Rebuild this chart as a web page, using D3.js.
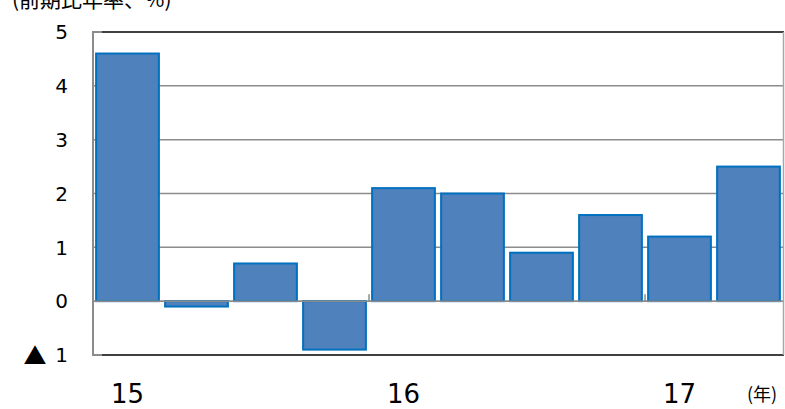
<!DOCTYPE html>
<html>
<head>
<meta charset="utf-8">
<script src="https://cdn.jsdelivr.net/npm/d3@7"></script>
<style>
  html, body { margin: 0; padding: 0; background: #fff; }
  svg { display: block; }
</style>
</head>
<body>
<svg id="chart" width="785" height="409"></svg>
<script>
// Quarterly growth, annualised (%)
const periods = ["15Q1", "15Q2", "15Q3", "15Q4", "16Q1", "16Q2", "16Q3", "16Q4", "17Q1", "17Q2"];
const growth = [4.6, -0.1, 0.7, -0.9, 2.1, 2.0, 0.9, 1.6, 1.2, 2.5];
const yTicks = [-1, 0, 1, 2, 3, 4, 5];
const yearLabels = [
  { period: "15Q1", text: "15" },
  { period: "16Q1", text: "16" },
  { period: "17Q1", text: "17" }
];
const yearBreaks = ["16Q1", "17Q1"];

const svg = d3.select("#chart");
const plotL = 93, plotR = 783, plotT = 32, plotB = 355;

const x = d3.scaleBand().domain(periods).range([plotL, plotR]).paddingInner(0.09).paddingOuter(0.045);
const y = d3.scaleLinear().domain([-1, 5]).range([plotB, plotT]);

const numFont = "'DejaVu Sans', Verdana, sans-serif";
const jpFont = "'Noto Sans CJK JP', sans-serif";

// horizontal gridlines
svg.append("g").selectAll("line")
  .data(yTicks.filter(d => d > -1 && d < 5))
  .join("line")
  .attr("x1", plotL).attr("x2", plotR)
  .attr("y1", d => y(d)).attr("y2", d => y(d))
  .attr("stroke", "#8c8c8c").attr("stroke-width", 1.5);

// bars
svg.append("g").selectAll("rect")
  .data(periods.map((p, i) => ({ p, v: growth[i] })))
  .join("rect")
  .attr("x", d => x(d.p))
  .attr("width", x.bandwidth())
  .attr("y", d => y(Math.max(0, d.v)))
  .attr("height", d => Math.abs(y(d.v) - y(0)))
  .attr("fill", "#4f81bd")
  .attr("stroke", "#0070c0")
  .attr("stroke-width", 2);

// zero line redrawn over the bars
svg.append("line")
  .attr("x1", plotL).attr("x2", plotR)
  .attr("y1", y(0)).attr("y2", y(0))
  .attr("stroke", "#8c8c8c").attr("stroke-width", 1.5);

// year separators on the zero line
svg.append("g").selectAll("line")
  .data(yearBreaks)
  .join("line")
  .attr("x1", d => x(d) - x.step() * x.paddingInner() / 2)
  .attr("x2", d => x(d) - x.step() * x.paddingInner() / 2)
  .attr("y1", y(0)).attr("y2", y(0) - 7)
  .attr("stroke", "#8c8c8c").attr("stroke-width", 1.5);

// plot frame
svg.append("line").attr("x1", plotL + 9).attr("x2", plotR + 1).attr("y1", plotT).attr("y2", plotT)
  .attr("stroke", "#404040").attr("stroke-width", 2);
svg.append("line").attr("x1", plotL + 9).attr("x2", plotR + 1).attr("y1", plotB).attr("y2", plotB)
  .attr("stroke", "#404040").attr("stroke-width", 2);
svg.append("line").attr("x1", plotR + 0.5).attr("x2", plotR + 0.5).attr("y1", plotT).attr("y2", plotB)
  .attr("stroke", "#a6a6a6").attr("stroke-width", 1.5);
svg.append("line").attr("x1", plotL).attr("x2", plotL).attr("y1", plotT - 1).attr("y2", plotB + 1)
  .attr("stroke", "#8c8c8c").attr("stroke-width", 2);
svg.append("line").attr("x1", plotL).attr("x2", plotL + 9).attr("y1", plotT).attr("y2", plotT)
  .attr("stroke", "#8c8c8c").attr("stroke-width", 2);
svg.append("line").attr("x1", plotL).attr("x2", plotL + 9).attr("y1", plotB).attr("y2", plotB)
  .attr("stroke", "#8c8c8c").attr("stroke-width", 2);

// y-axis labels (negative values marked with ▲)
svg.append("g").selectAll("text")
  .data(yTicks)
  .join("text")
  .attr("x", 68)
  .attr("y", d => y(d))
  .attr("dy", "0.36em")
  .attr("text-anchor", "end")
  .attr("font-family", numFont)
  .attr("font-size", 20)
  .attr("fill", "#000")
  .text(d => Math.abs(d));

svg.append("g").selectAll("text")
  .data(yTicks.filter(d => d < 0))
  .join("text")
  .attr("x", 35)
  .attr("y", d => y(d))
  .attr("dy", "0.38em")
  .attr("text-anchor", "middle")
  .attr("font-family", jpFont)
  .attr("font-size", 23)
  .attr("fill", "#000")
  .text("▲");

// year labels
svg.append("g").selectAll("text")
  .data(yearLabels)
  .join("text")
  .attr("x", d => x(d.period) + x.bandwidth() / 2)
  .attr("y", 403)
  .attr("text-anchor", "middle")
  .attr("font-family", numFont)
  .attr("font-size", 26)
  .attr("fill", "#000")
  .text(d => d.text);

svg.append("text")
  .attr("x", 747).attr("y", 401)
  .attr("font-family", jpFont)
  .attr("font-size", 18)
  .attr("fill", "#000")
  .text("(年)");

// unit caption
svg.append("text")
  .attr("x", 12).attr("y", 7)
  .attr("font-family", jpFont)
  .attr("font-size", 21)
  .attr("fill", "#000")
  .text("(前期比年率、%)");
</script>
</body>
</html>
